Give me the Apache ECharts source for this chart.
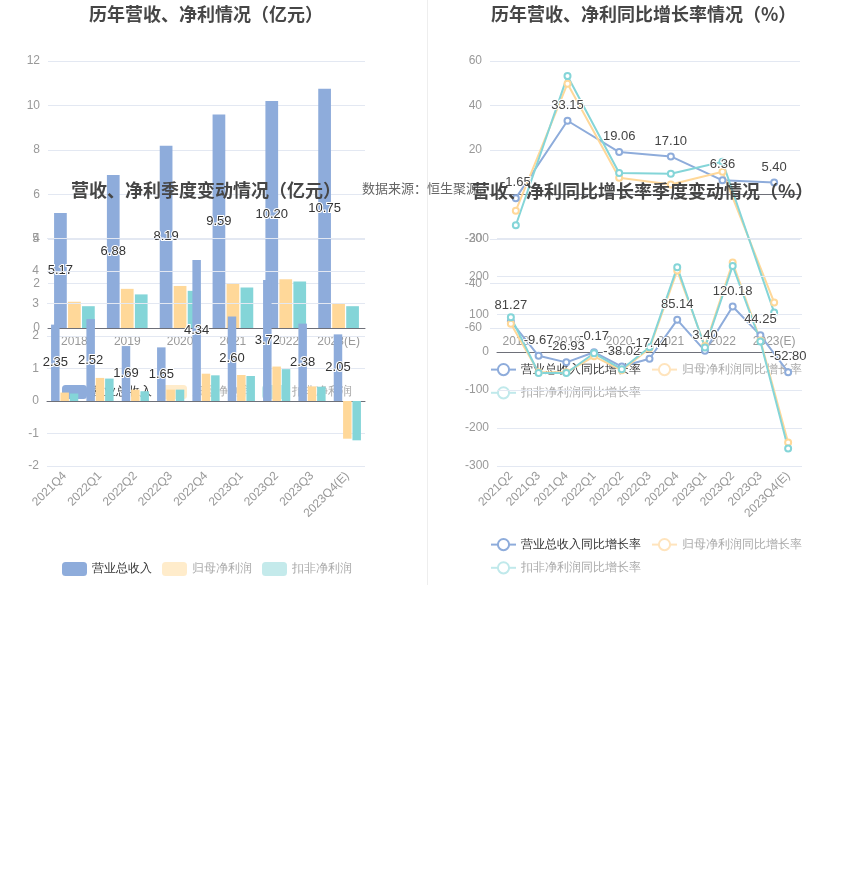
<!DOCTYPE html>
<html>
<head>
<meta charset="utf-8">
<script src="https://cdn.jsdelivr.net/npm/echarts@6/dist/echarts.min.js"></script>
<style>
html,body{margin:0;padding:0;background:#fff;width:850px;height:892px;overflow:hidden;font-family:"Noto Sans CJK SC","Noto Sans",sans-serif;}
.c{position:absolute;left:0;top:0;width:850px;height:600px;}
#divider{position:absolute;left:427px;top:0;width:0;height:585px;border-left:1px solid #eeeeee;}
</style>
</head>
<body>
<div id="divider"></div>
<div id="tl" class="c"></div>
<div id="tr" class="c"></div>
<div id="bl" class="c"></div>
<div id="br" class="c"></div>
<script>
// ---- data ----
const yearCats = ['2018', '2019', '2020', '2021', '2022', '2023(E)'];
const yearRevenue = [5.17, 6.88, 8.19, 9.59, 10.20, 10.75];
const yearNetProfit = [1.18, 1.76, 1.89, 1.98, 2.19, 1.12];
const yearDeductProfit = [0.98, 1.51, 1.67, 1.82, 2.09, 0.98];
const yearRevenueGrowth = [-1.65, 33.15, 19.06, 17.10, 6.36, 5.40];
const yearNetGrowth = [-7.3, 49.8, 7.5, 4.5, 10.2, -48.5];
const yearDeductGrowth = [-13.8, 53.3, 9.7, 9.3, 14.7, -53.0];

const quarterCats = ['2021Q4', '2022Q1', '2022Q2', '2022Q3', '2022Q4', '2023Q1', '2023Q2', '2023Q3', '2023Q4(E)'];
const quarterRevenue = [2.35, 2.52, 1.69, 1.65, 4.34, 2.60, 3.72, 2.38, 2.05];
const quarterNetProfit = [0.26, 0.71, 0.35, 0.35, 0.84, 0.80, 1.06, 0.45, -1.16];
const quarterDeductProfit = [0.23, 0.69, 0.30, 0.35, 0.79, 0.77, 0.98, 0.44, -1.21];

const growthQuarterCats = ['2021Q2', '2021Q3', '2021Q4', '2022Q1', '2022Q2', '2022Q3', '2022Q4', '2023Q1', '2023Q2', '2023Q3', '2023Q4(E)'];
const quarterRevenueGrowth = [81.27, -9.67, -26.93, -0.17, -38.02, -17.44, 85.14, 3.40, 120.18, 44.25, -52.80];
const quarterNetGrowth = [75, -53, -53, -11, -48, 10, 215, 16, 236, 31, -238];
const quarterDeductGrowth = [92, -55, -55, -3, -45, 13, 224, 12, 227, 28, -254];

const barNames = ['营业总收入', '归母净利润', '扣非净利润'];
const lineNames = ['营业总收入同比增长率', '归母净利润同比增长率', '扣非净利润同比增长率'];

// ---- styles ----
const C_BLUE = '#8EACDB', C_YEL = '#FFD899', C_TEAL = '#84D5D8';
const P_YEL = '#FFECCB', P_TEAL = '#C4EAEB';
const PL_YEL = '#FFE4BD', PL_TEAL = '#C0E9EB';
const AX = '#999';
const titleStyle = {fontSize: 18, fontWeight: 'bold', color: '#464646', fontFamily: 'Noto Sans CJK SC'};
const fmt2 = function (p) { return Number(p.value).toFixed(2); };

function barLegend(left, top) {
  return {
    left: left, top: top, itemWidth: 25, itemHeight: 14, itemGap: 10, z: 1,
    textStyle: {fontSize: 12, color: '#333'},
    data: [
      {name: barNames[0]},
      {name: barNames[1], itemStyle: {color: P_YEL}, textStyle: {color: '#aaa'}},
      {name: barNames[2], itemStyle: {color: P_TEAL}, textStyle: {color: '#aaa'}}
    ]
  };
}
function lineLegend(left, top) {
  return {
    left: left, top: top, width: 330, itemWidth: 25, itemHeight: 14, itemGap: 10, z: 1,
    textStyle: {fontSize: 12, color: '#333'},
    data: [
      {name: lineNames[0]},
      {name: lineNames[1], itemStyle: {color: PL_YEL}, lineStyle: {color: PL_YEL}, textStyle: {color: '#aaa'}},
      {name: lineNames[2], itemStyle: {color: PL_TEAL}, lineStyle: {color: PL_TEAL}, textStyle: {color: '#aaa'}}
    ]
  };
}
const barLabel = {show: true, position: 'inside', fontSize: 13, color: '#333', textBorderColor: '#fff', textBorderWidth: 2, formatter: fmt2};
const lineLabel = {show: true, position: 'top', fontSize: 13, color: '#444', textBorderColor: '#fff', textBorderWidth: 2, formatter: fmt2};

function catAxis(data, rotate) {
  return {
    type: 'category', data: data,
    axisLine: {lineStyle: {color: '#6E7079'}},
    axisTick: {alignWithLabel: true},
    axisLabel: {color: AX, fontSize: 12, interval: 0, rotate: rotate || 0}
  };
}
function valAxis(min, max, interval) {
  return {
    type: 'value', min: min, max: max, interval: interval,
    axisLabel: {color: AX, fontSize: 12},
    splitLine: {lineStyle: {color: '#E3E8F2'}}
  };
}
function bars(v1, v2, v3) {
  return [
    {name: barNames[0], type: 'bar', data: v1, itemStyle: {color: C_BLUE}, label: barLabel},
    {name: barNames[1], type: 'bar', data: v2, itemStyle: {color: C_YEL}},
    {name: barNames[2], type: 'bar', data: v3, itemStyle: {color: C_TEAL}}
  ];
}
function lines(v1, v2, v3) {
  const common = {type: 'line', symbol: 'emptyCircle', symbolSize: 6, lineStyle: {width: 2}};
  return [
    Object.assign({name: lineNames[0], data: v1, itemStyle: {color: C_BLUE}, label: lineLabel}, common),
    Object.assign({name: lineNames[1], data: v2, itemStyle: {color: C_YEL}}, common),
    Object.assign({name: lineNames[2], data: v3, itemStyle: {color: C_TEAL}}, common)
  ];
}

const tl = echarts.init(document.getElementById('tl'));
tl.setOption({
  animation: false,
  title: {text: '历年营收、净利情况（亿元）', left: 84, top: 0, textStyle: titleStyle},
  legend: barLegend(57, 380),
  grid: {left: 48, top: 61, width: 317, height: 267},
  xAxis: catAxis(yearCats),
  yAxis: valAxis(0, 12, 2),
  series: bars(yearRevenue, yearNetProfit, yearDeductProfit)
});

const tr = echarts.init(document.getElementById('tr'));
tr.setOption({
  animation: false,
  title: {text: '历年营收、净利同比增长率情况（%）', left: 486, top: 0, textStyle: titleStyle},
  legend: lineLegend(485, 358),
  grid: {left: 490, top: 61, width: 310, height: 267},
  xAxis: catAxis(yearCats),
  yAxis: valAxis(-60, 60, 20),
  series: lines(yearRevenueGrowth, yearNetGrowth, yearDeductGrowth)
});

const bl = echarts.init(document.getElementById('bl'));
bl.setOption({
  animation: false,
  title: {text: '营收、净利季度变动情况（亿元）', left: 66, top: 176, textStyle: titleStyle},
  graphic: [{type: 'text', left: 362, top: 182, style: {text: '数据来源：恒生聚源', fontSize: 13, fill: '#666', fontFamily: 'Noto Sans CJK SC'}}],
  legend: barLegend(57, 557),
  grid: {left: 47, top: 238.5, width: 318, height: 227.5},
  xAxis: catAxis(quarterCats, 45),
  yAxis: valAxis(-2, 5, 1),
  series: bars(quarterRevenue, quarterNetProfit, quarterDeductProfit)
});

const br = echarts.init(document.getElementById('br'));
br.setOption({
  animation: false,
  title: {text: '营收、净利同比增长率季度变动情况（%）', left: 467, top: 177, textStyle: titleStyle},
  legend: lineLegend(485, 533),
  grid: {left: 497, top: 238.3, width: 305, height: 227.7},
  xAxis: catAxis(growthQuarterCats, 45),
  yAxis: valAxis(-300, 300, 100),
  series: lines(quarterRevenueGrowth, quarterNetGrowth, quarterDeductGrowth)
});
</script>
</body>
</html>
